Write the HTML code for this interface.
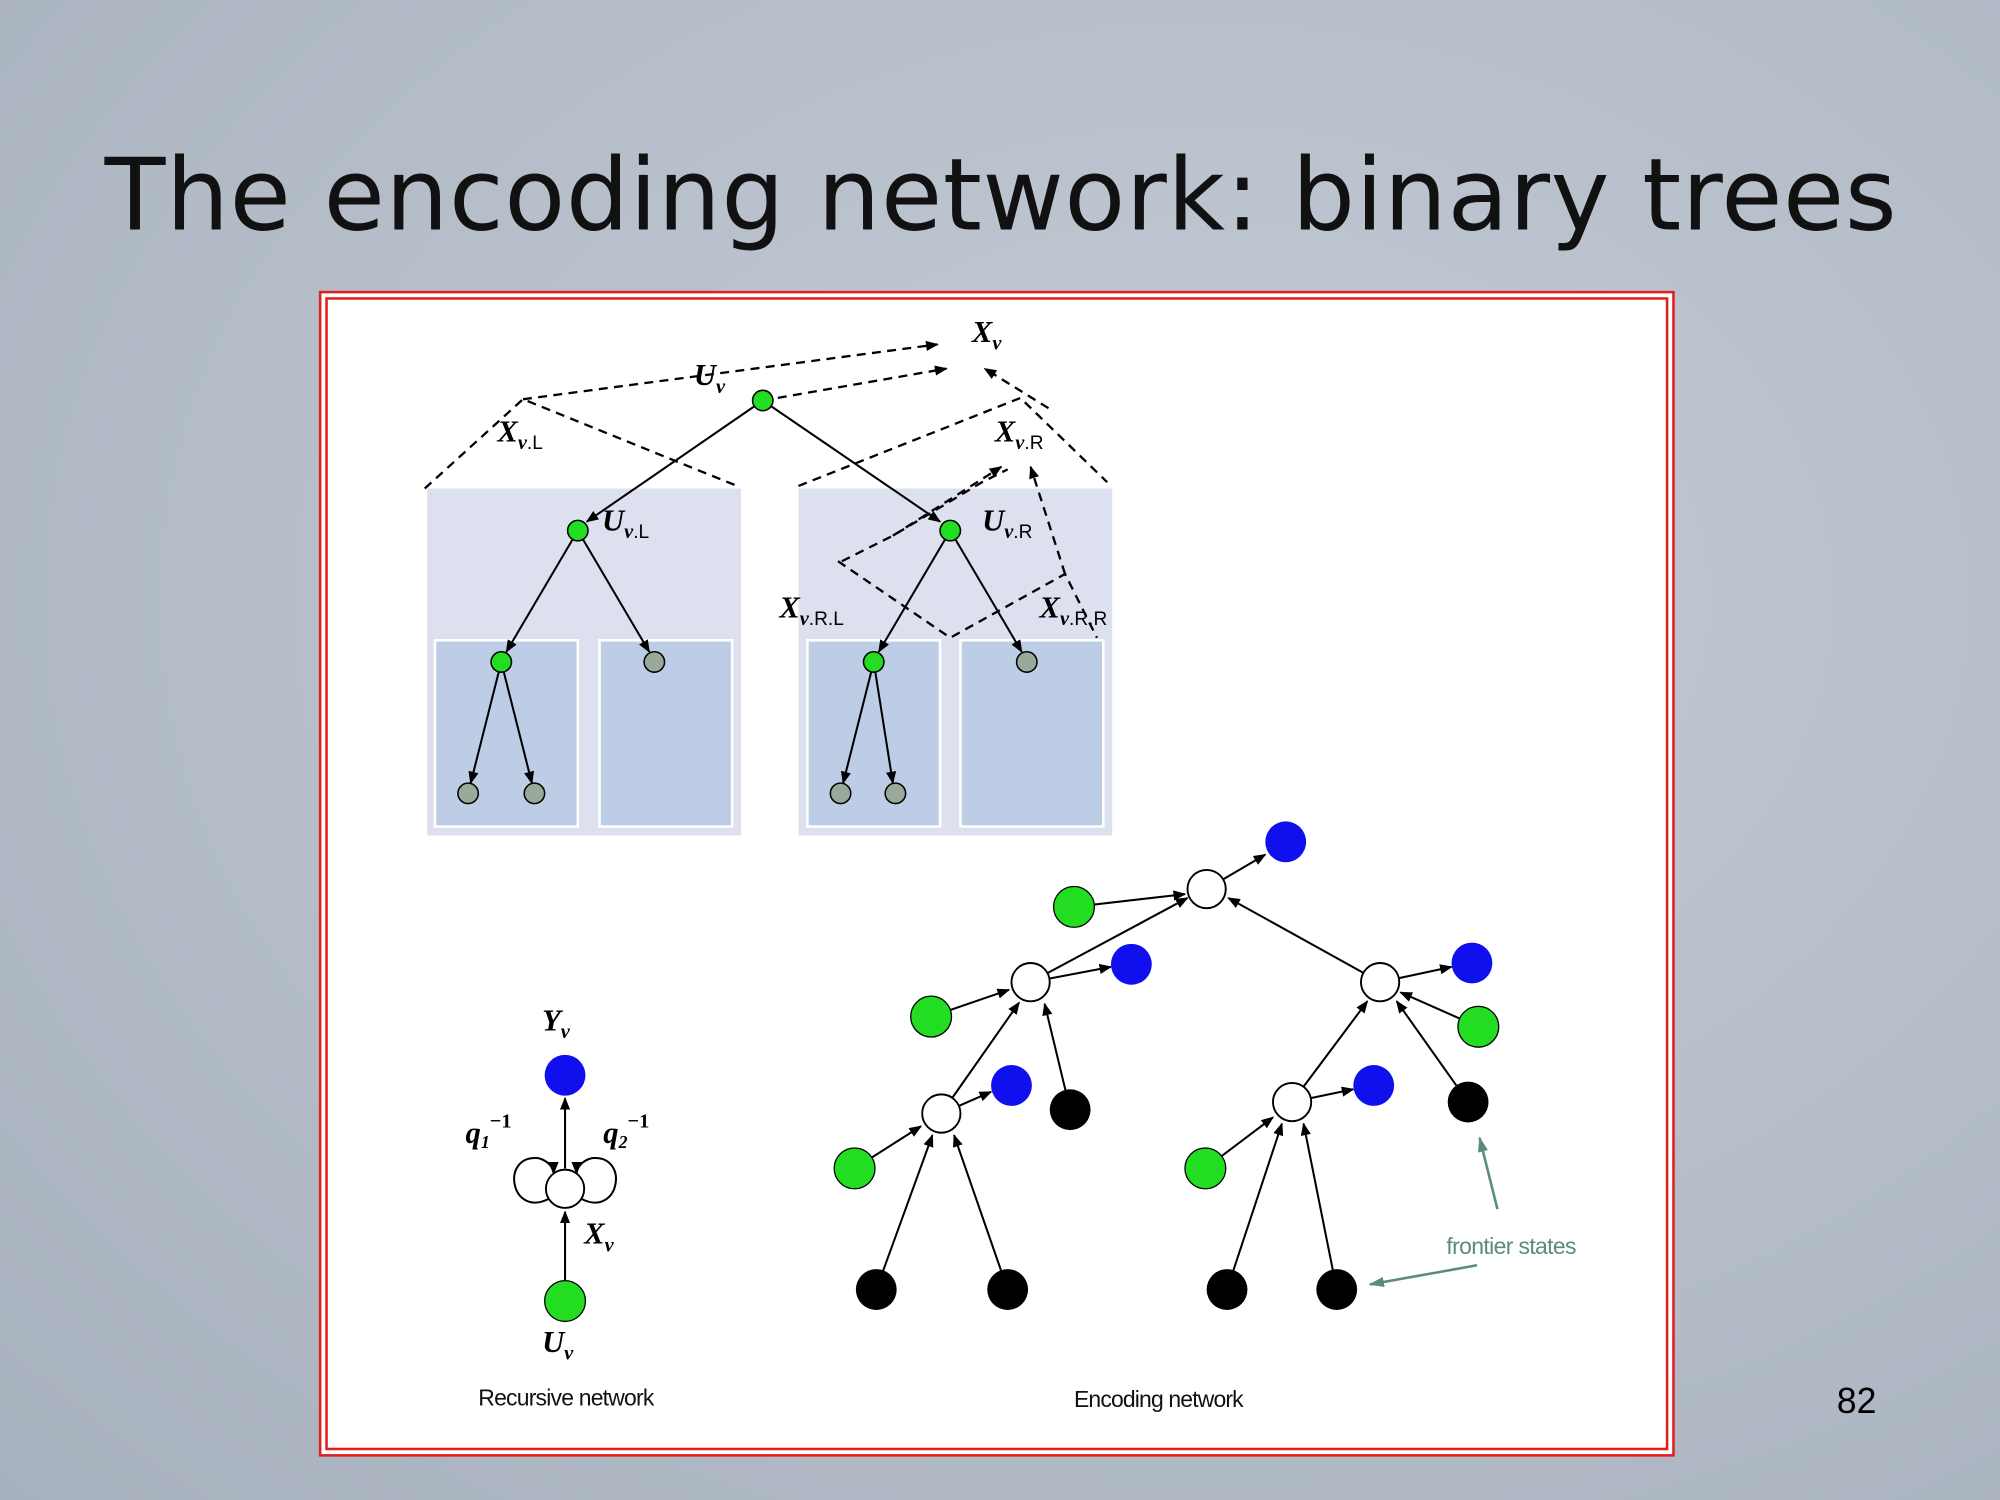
<!DOCTYPE html>
<html><head><meta charset="utf-8"><style>
html,body{margin:0;padding:0;width:2000px;height:1500px;overflow:hidden}
body{background:radial-gradient(ellipse at 60% 40%,#c4ccd6 0%,#b3bcc7 60%,#a7b1bd 100%)}
svg{display:block}
</style></head><body>
<svg width="2000" height="1500" viewBox="0 0 1568 1176" xmlns="http://www.w3.org/2000/svg">
<defs>
<marker id="a" markerWidth="10" markerHeight="8" refX="9" refY="4" orient="auto" markerUnits="userSpaceOnUse"><path d="M0,0 L10,4 L0,8 z" fill="#000"/></marker>
<marker id="g" markerWidth="12" markerHeight="8" refX="11" refY="4" orient="auto" markerUnits="userSpaceOnUse"><path d="M0,0 L12,4 L0,8 z" fill="#5a8a80"/></marker>
</defs>
<text x="82" y="180" font-family="DejaVu Sans, Liberation Sans, sans-serif" font-size="78" fill="#111" textLength="1405">The encoding network: binary trees</text>
<rect x="251" y="229" width="1061" height="912" fill="#fff" stroke="#e02020" stroke-width="2"/>
<rect x="256" y="234" width="1051" height="902" fill="none" stroke="#e02020" stroke-width="2"/>
<rect x="335" y="383" width="246" height="272" fill="#dde0ee"/>
<rect x="626" y="383" width="246" height="272" fill="#dde0ee"/>
<g fill="#bccde5" stroke="#fff" stroke-width="2">
<rect x="341" y="502" width="112" height="146"/><rect x="470" y="502" width="104" height="146"/>
<rect x="633" y="502" width="104" height="146"/><rect x="753" y="502" width="112" height="146"/></g>
<g stroke="#000" stroke-width="1.8" stroke-dasharray="7,5" fill="none">
<polyline points="333,383 410,313 578,381"/>
<line x1="410" y1="313" x2="735" y2="270" marker-end="url(#a)"/>
<line x1="598" y1="314" x2="742" y2="289" marker-end="url(#a)"/>
<polyline points="626,381 800,312 868,378"/>
<line x1="822" y1="320" x2="772" y2="289" marker-end="url(#a)"/>
<polyline points="660,440 700,420 770,378 790,368"/>
<polyline points="657,440 745,500 835,450 860,500"/>
<line x1="700" y1="420" x2="785" y2="366" marker-end="url(#a)"/>
<line x1="835" y1="450" x2="808" y2="366" marker-end="url(#a)"/>
</g>
<g stroke="#000" stroke-width="1.6" marker-end="url(#a)">
<line x1="598" y1="314" x2="460" y2="409"/><line x1="598" y1="314" x2="737" y2="409"/>
<line x1="453" y1="416" x2="397" y2="511"/><line x1="453" y1="416" x2="509" y2="511"/>
<line x1="745" y1="416" x2="689" y2="511"/><line x1="745" y1="416" x2="801" y2="511"/>
<line x1="393" y1="519" x2="369" y2="614"/><line x1="393" y1="519" x2="417" y2="614"/>
<line x1="685" y1="519" x2="661" y2="614"/><line x1="685" y1="519" x2="700" y2="614"/>
</g>
<g stroke="#000" stroke-width="1.2">
<circle cx="598" cy="314" r="8" fill="#22dd22"/><circle cx="453" cy="416" r="8" fill="#22dd22"/><circle cx="745" cy="416" r="8" fill="#22dd22"/>
<circle cx="393" cy="519" r="8" fill="#22dd22"/><circle cx="685" cy="519" r="8" fill="#22dd22"/>
<circle cx="513" cy="519" r="8" fill="#9aaa9a"/><circle cx="805" cy="519" r="8" fill="#9aaa9a"/>
<circle cx="367" cy="622" r="8" fill="#9aaa9a"/><circle cx="419" cy="622" r="8" fill="#9aaa9a"/>
<circle cx="659" cy="622" r="8" fill="#9aaa9a"/><circle cx="702" cy="622" r="8" fill="#9aaa9a"/>
</g>
<g font-family="Liberation Serif, serif" font-weight="bold" font-style="italic" font-size="24">
<text x="762" y="268">X<tspan font-size="16" dy="6">v</tspan></text>
<text x="544" y="302">U<tspan font-size="16" dy="6">v</tspan></text>
<text x="390" y="346">X<tspan font-size="16" dy="6">v</tspan><tspan font-style="normal" font-weight="normal" font-family="Liberation Sans" font-size="15">.L</tspan></text>
<text x="780" y="346">X<tspan font-size="16" dy="6">v</tspan><tspan font-style="normal" font-weight="normal" font-family="Liberation Sans" font-size="15">.R</tspan></text>
<text x="472" y="416">U<tspan font-size="16" dy="6">v</tspan><tspan font-style="normal" font-weight="normal" font-family="Liberation Sans" font-size="15">.L</tspan></text>
<text x="770" y="416">U<tspan font-size="16" dy="6">v</tspan><tspan font-style="normal" font-weight="normal" font-family="Liberation Sans" font-size="15">.R</tspan></text>
<text x="611" y="484">X<tspan font-size="16" dy="6">v</tspan><tspan font-style="normal" font-weight="normal" font-family="Liberation Sans" font-size="15">.R.L</tspan></text>
<text x="815" y="484">X<tspan font-size="16" dy="6">v</tspan><tspan font-style="normal" font-weight="normal" font-family="Liberation Sans" font-size="15">.R.R</tspan></text>
<text x="425" y="808">Y<tspan font-size="16" dy="6">v</tspan></text>
<text x="425" y="1060">U<tspan font-size="16" dy="6">v</tspan></text>
<text x="458" y="975">X<tspan font-size="16" dy="6">v</tspan></text>
<text x="365" y="896">q<tspan font-size="14" dy="4">1</tspan><tspan font-size="16" dy="-16" font-style="normal">−1</tspan></text>
<text x="473" y="896">q<tspan font-size="14" dy="4">2</tspan><tspan font-size="16" dy="-16" font-style="normal">−1</tspan></text>
</g>
<g stroke="#000" stroke-width="1.6" fill="none">
<line x1="443" y1="1004" x2="443" y2="950" marker-end="url(#a)"/>
<line x1="443" y1="916" x2="443" y2="861" marker-end="url(#a)"/>
<path d="M430,940 C400,955 392,905 422,908 C430,910 434,916 434,920" marker-end="url(#a)"/>
<path d="M456,940 C486,955 494,905 464,908 C456,910 452,916 452,920" marker-end="url(#a)"/>
</g>
<circle cx="443" cy="932" r="15" fill="#fff" stroke="#000" stroke-width="1.5"/>
<circle cx="443" cy="843" r="16" fill="#1010ee"/>
<circle cx="443" cy="1020" r="16" fill="#22dd22" stroke="#000" stroke-width="1"/>
<g stroke="#000" stroke-width="1.6" marker-end="url(#a)">
<line x1="946" y1="697" x2="992" y2="670"/><line x1="842" y1="711" x2="929" y2="701"/>
<line x1="808" y1="770" x2="931" y2="704"/><line x1="1082" y1="770" x2="963" y2="704"/>
<line x1="808" y1="770" x2="871" y2="758"/><line x1="730" y1="797" x2="791" y2="776"/>
<line x1="1082" y1="770" x2="1138" y2="758"/><line x1="1159" y1="805" x2="1098" y2="778"/>
<line x1="738" y1="873" x2="799" y2="786"/><line x1="839" y1="870" x2="819" y2="787"/>
<line x1="1013" y1="864" x2="1072" y2="785"/><line x1="1151" y1="864" x2="1095" y2="785"/>
<line x1="738" y1="873" x2="777" y2="856"/><line x1="670" y1="916" x2="722" y2="883"/>
<line x1="1013" y1="864" x2="1061" y2="854"/><line x1="945" y1="916" x2="998" y2="876"/>
<line x1="687" y1="1011" x2="731" y2="890"/><line x1="790" y1="1011" x2="748" y2="890"/>
<line x1="962" y1="1011" x2="1005" y2="881"/><line x1="1048" y1="1011" x2="1022" y2="881"/>
</g>
<g stroke="#000" stroke-width="1.5" fill="#fff">
<circle cx="946" cy="697" r="15"/><circle cx="808" cy="770" r="15"/><circle cx="1082" cy="770" r="15"/>
<circle cx="738" cy="873" r="15"/><circle cx="1013" cy="864" r="15"/></g>
<g fill="#1010ee"><circle cx="1008" cy="660" r="16"/><circle cx="887" cy="756" r="16"/><circle cx="1154" cy="755" r="16"/><circle cx="793" cy="851" r="16"/><circle cx="1077" cy="851" r="16"/></g>
<g fill="#22dd22" stroke="#000" stroke-width="1"><circle cx="842" cy="711" r="16"/><circle cx="730" cy="797" r="16"/><circle cx="1159" cy="805" r="16"/><circle cx="670" cy="916" r="16"/><circle cx="945" cy="916" r="16"/></g>
<g fill="#000"><circle cx="839" cy="870" r="16"/><circle cx="1151" cy="864" r="16"/><circle cx="687" cy="1011" r="16"/><circle cx="790" cy="1011" r="16"/><circle cx="962" cy="1011" r="16"/><circle cx="1048" cy="1011" r="16"/></g>
<g stroke="#5a8a80" stroke-width="2">
<line x1="1174" y1="948" x2="1160" y2="892" marker-end="url(#g)"/>
<line x1="1158" y1="992" x2="1074" y2="1007" marker-end="url(#g)"/></g>
<text x="1134" y="983" font-family="Liberation Sans, sans-serif" font-size="18" fill="#5a8a80" textLength="102">frontier states</text>
<text x="375" y="1102" font-family="Liberation Sans, sans-serif" font-size="18" fill="#111" textLength="138">Recursive network</text>
<text x="842" y="1103" font-family="Liberation Sans, sans-serif" font-size="18" fill="#111" textLength="133">Encoding network</text>
<text x="1440" y="1108" font-family="Liberation Sans, sans-serif" font-size="28" fill="#000">82</text>
</svg>
</body></html>
